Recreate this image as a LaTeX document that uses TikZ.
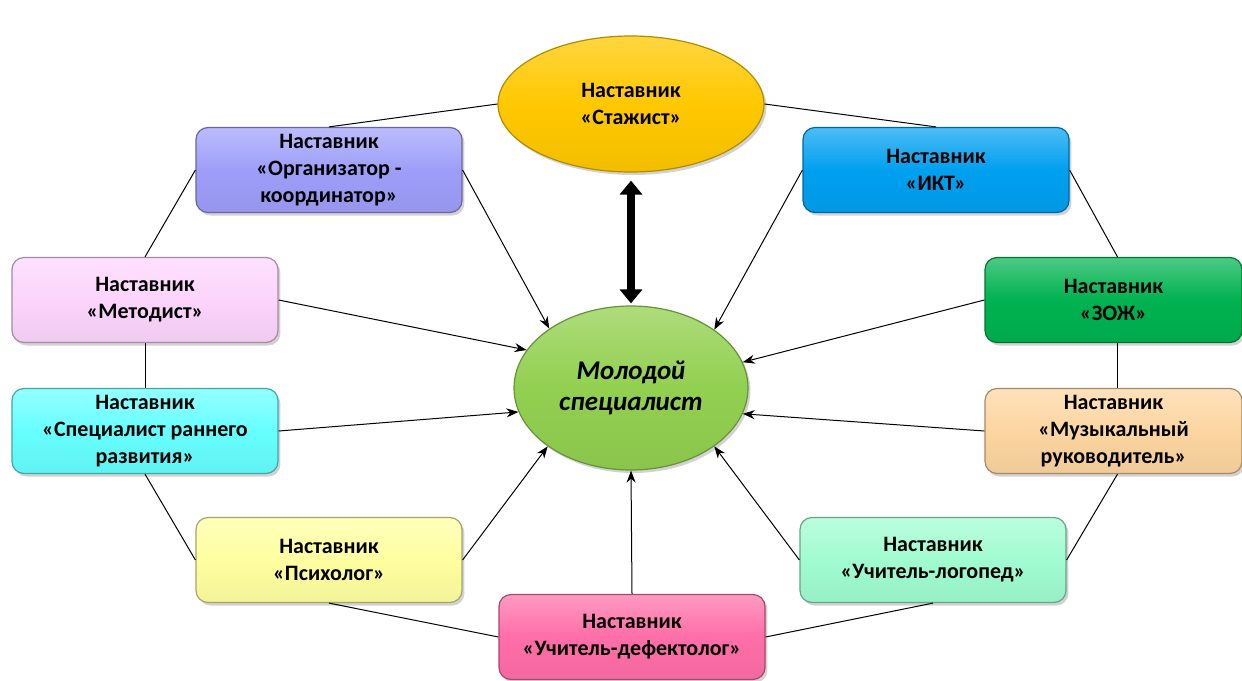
\documentclass[tikz,border=0pt]{standalone}
\usepackage{fontspec}
\setmainfont{Carlito}
\usetikzlibrary{shadows,arrows.meta,shapes.geometric}
\definecolor{cOrg}{RGB}{158,158,250}
\definecolor{cIkt}{RGB}{0,160,240}
\definecolor{cMet}{RGB}{252,212,252}
\definecolor{cZoz}{RGB}{0,178,80}
\definecolor{cSpe}{RGB}{102,255,255}
\definecolor{cMuz}{RGB}{252,213,160}
\definecolor{cPsi}{RGB}{255,255,160}
\definecolor{cLog}{RGB}{160,252,208}
\definecolor{cDef}{RGB}{255,110,168}
\definecolor{cSta}{RGB}{255,200,0}
\definecolor{cMol}{RGB}{146,208,80}
\tikzset{
  mbox/.style={rectangle, rounded corners=6pt, minimum width=133pt, minimum height=42.5pt,
    inner sep=2pt, align=center, font=\fontsize{11}{13.5}\selectfont\bfseries,
    draw=#1!65!black, line width=0.6pt,
    top color=#1!70!white, bottom color=#1!95!black, middle color=#1,
    drop shadow={opacity=0.35, shadow xshift=1.2pt, shadow yshift=-1.5pt}},
  mell/.style={ellipse, align=center, draw=#1!70!black, line width=0.6pt,
    top color=#1!75!white, bottom color=#1!95!black, middle color=#1,
    drop shadow={opacity=0.35, shadow xshift=1.2pt, shadow yshift=-1.5pt}},
  link/.style={draw=black, line width=0.5pt},
  arr/.style={draw=black, line width=0.5pt, -{Stealth[length=6pt,width=4.5pt]}},
  bigarr/.style={draw=black, line width=4pt, {Triangle[length=7pt,width=11pt]}-{Triangle[length=7pt,width=11pt]}}
}
\begin{document}
\begin{tikzpicture}[x=0.5pt,y=-0.5pt]
\useasboundingbox (0,0) rectangle (1242,680);
\fill[white] (0,0) rectangle (1242,680);
% ellipses
\node[mell=cSta, minimum width=133pt, minimum height=68pt,
  font=\fontsize{11}{13.5}\selectfont\bfseries] (sta) at (631,104) {Наставник\\«Стажист»};
\node[mell=cMol, minimum width=117pt, minimum height=82pt,
  font=\fontsize{13.5}{15.5}\selectfont\bfseries\itshape] (mol) at (631,388) {Молодой\\специалист};
% boxes
\node[mbox=cOrg] (org) at (329,170) {Наставник\\«Организатор -\\координатор»};
\node[mbox=cIkt] (ikt) at (936,170) {Наставник\\«ИКТ»};
\node[mbox=cMet] (met) at (145,300) {Наставник\\«Методист»};
\node[mbox=cZoz, minimum width=128.5pt] (zoz) at (1113.5,300) {Наставник\\«ЗОЖ»};
\node[mbox=cSpe] (spe) at (145,431) {Наставник\\«Специалист раннего\\развития»};
\node[mbox=cMuz, minimum width=128.5pt] (muz) at (1113.5,431) {Наставник\\«Музыкальный\\руководитель»};
\node[mbox=cPsi] (psi) at (329,560) {Наставник\\«Психолог»};
\node[mbox=cLog] (log) at (933,560) {Наставник\\«Учитель-логопед»};
\node[mbox=cDef] (def) at (632,637) {Наставник\\«Учитель-дефектолог»};
% ring links
\draw[link] (sta.west) -- (org.north);
\draw[link] (sta.east) -- (ikt.north);
\draw[link] (org.west) -- (met.north);
\draw[link] (ikt.east) -- ([xshift=2pt]zoz.north);
\draw[link] (met.south) -- (spe.north);
\draw[link] ([xshift=2pt]zoz.south) -- ([xshift=2pt]muz.north);
\draw[link] (spe.south) -- (psi.west);
\draw[link] ([xshift=2pt]muz.south) -- (log.east);
\draw[link] (psi.south) -- (def.west);
\draw[link] (log.south) -- (def.east);
% arrows to centre
\draw[arr] (org.east) -- (mol.144.7);
\draw[arr] (ikt.west) -- (mol.35);
\draw[arr] (met.east) -- (mol.160);
\draw[arr] (zoz.west) -- (mol.13);
\draw[arr] (spe.east) -- (mol.192);
\draw[arr] (muz.west) -- (mol.347);
\draw[arr] (psi.east) -- (mol.215);
\draw[arr] (log.west) -- (mol.325);
\draw[arr] (def.north) -- (mol.south);
\draw[bigarr, shorten <=4pt, shorten >=1pt] (sta.south) -- (mol.north);
\end{tikzpicture}
\end{document}
